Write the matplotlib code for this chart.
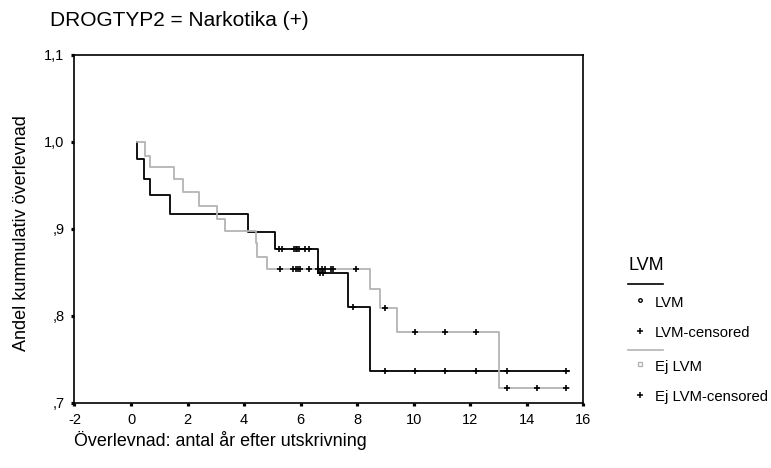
import numpy as np
import matplotlib
matplotlib.use('Agg')
import matplotlib.pyplot as plt
from matplotlib.lines import Line2D
from matplotlib import font_manager

plt.rcParams['font.family'] = ['Liberation Sans', 'DejaVu Sans']

# Kaplan-Meier steps, LVM group (start time, then event times and survival after each)
lvm_start = 0.2
lvm_times = [0.2, 0.46, 0.67, 1.38, 4.15, 5.1, 6.6, 7.69, 8.46]
lvm_surv = [0.980, 0.958, 0.939, 0.917, 0.897, 0.877, 0.849, 0.810, 0.737]
lvm_end = 15.5
lvm_censored = [5.25, 5.35, 5.75, 5.82, 5.88, 5.95, 6.17, 6.29,
                6.7, 6.8, 7.86, 9.0, 10.05, 11.1, 12.2, 13.3, 15.4]

# Ej LVM group
ej_start = 0.2
ej_times = [0.5, 0.67, 1.53, 1.85, 2.42, 3.03, 3.33, 4.42, 4.47, 4.8,
            8.46, 8.8, 9.4, 13.0]
ej_surv = [0.984, 0.971, 0.957, 0.942, 0.927, 0.912, 0.898, 0.884, 0.868, 0.854,
           0.831, 0.809, 0.782, 0.717]
ej_end = 15.5
ej_censored = [5.27, 5.72, 5.82, 5.9, 5.98, 6.3, 6.62, 6.75, 6.85, 7.07, 7.16, 7.95,
               9.0, 10.05, 11.1, 12.2, 13.3, 14.35, 15.4]

x_ticks = [-2, 0, 2, 4, 6, 8, 10, 12, 14, 16]
y_ticks = [0.7, 0.8, 0.9, 1.0, 1.1]
y_ticklabels = [',7', ',8', ',9', '1,0', '1,1']


def step_xy(start, times, surv, end):
    x = [start] + list(times) + [end]
    y = [1.0] + list(surv) + [surv[-1]]
    return x, y


def surv_at(t, times, surv):
    i = np.searchsorted(times, t, side='right')
    return 1.0 if i == 0 else surv[i - 1]


fig = plt.figure(figsize=(7.71, 4.68), dpi=100)
ax = fig.add_axes([0.0966, 0.1389, 0.66, 0.7436])

x, y = step_xy(lvm_start, lvm_times, lvm_surv, lvm_end)
ax.plot(x, y, drawstyle='steps-post', color='black', lw=1.3)
x, y = step_xy(ej_start, ej_times, ej_surv, ej_end)
ax.plot(x, y, drawstyle='steps-post', color='#b4b4b4', lw=1.3)

ax.plot(lvm_censored, [surv_at(t, lvm_times, lvm_surv) for t in lvm_censored],
        ls='none', marker='+', ms=4.5, mew=1.2, color='black')
ax.plot(ej_censored, [surv_at(t, ej_times, ej_surv) for t in ej_censored],
        ls='none', marker='+', ms=4.5, mew=1.2, color='black')

ax.set_xlim(-2, 16)
ax.set_ylim(0.7, 1.1)
ax.set_xticks(x_ticks)
ax.set_xticklabels([str(t) for t in x_ticks])
ax.set_yticks(y_ticks)
ax.set_yticklabels(y_ticklabels)
ax.tick_params(direction='out', length=2.3, width=2.3, labelsize=10.5, pad=5)
for s in ax.spines.values():
    s.set_linewidth(1.2)

# condensed face for the title when it is available
names = {f.name for f in font_manager.fontManager.ttflist}
if 'Liberation Sans Narrow' in names:
    title_family, title_size = 'Liberation Sans Narrow', 17.5
else:
    title_family, title_size = 'Liberation Sans', 15
fig.text(50 / 771, 1 - 21 / 468, 'DROGTYP2 = Narkotika (+)', fontsize=title_size,
         family=[title_family, 'DejaVu Sans'], va='center', ha='left')
fig.text(22 / 771, 1 - 233 / 468, 'Andel kummulativ överlevnad', fontsize=13,
         rotation=90, va='center', ha='center')
fig.text(74 / 771, 1 - 441 / 468, 'Överlevnad: antal år efter utskrivning', fontsize=12.9,
         va='center', ha='left')


# legend drawn in figure pixels
def fx(px):
    return px / 771


def fy(py):
    return 1 - py / 468


fig.text(fx(628), fy(265), 'LVM', fontsize=13, va='center', ha='left')
fig.add_artist(Line2D([fx(628), fx(663)], [fy(284), fy(284)], color='black', lw=1.2))
fig.add_artist(Line2D([fx(640)], [fy(300)], marker='o', ms=2.5, mfc='white',
                      mec='black', mew=1, ls='none'))
fig.text(fx(655), fy(303), 'LVM', fontsize=10.7, va='center', ha='left')
fig.add_artist(Line2D([fx(640)], [fy(331)], marker='+', ms=5, mew=1.1,
                      color='black', ls='none'))
fig.text(fx(655), fy(333), 'LVM-censored', fontsize=10.7, va='center', ha='left')
fig.add_artist(Line2D([fx(628), fx(663)], [fy(350), fy(350)], color='#b4b4b4', lw=1.2))
fig.add_artist(Line2D([fx(640)], [fy(364)], marker='s', ms=2.5, mfc='white',
                      mec='#b4b4b4', mew=1, ls='none'))
fig.text(fx(655), fy(367), 'Ej LVM', fontsize=10.7, va='center', ha='left')
fig.add_artist(Line2D([fx(640)], [fy(395)], marker='+', ms=5, mew=1.1,
                      color='black', ls='none'))
fig.text(fx(655), fy(397), 'Ej LVM-censored', fontsize=10.7, va='center', ha='left')

fig.savefig('out.png', dpi=100)
